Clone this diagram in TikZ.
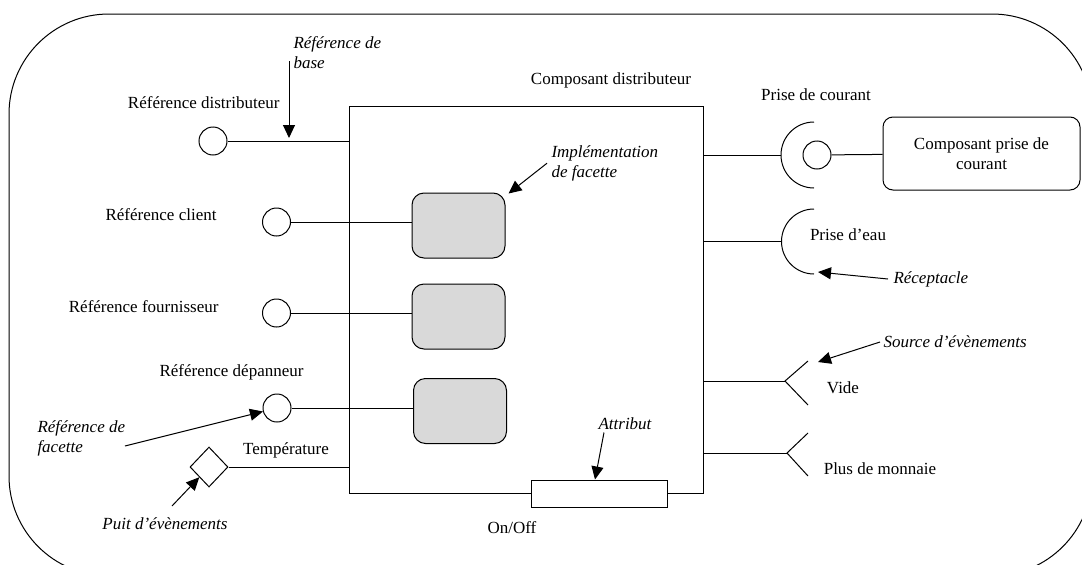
\documentclass[tikz,border=0pt]{standalone}
\usepackage{fontspec}
\setmainfont{Liberation Serif}
\usetikzlibrary{arrows.meta,shapes.geometric,positioning}

\begin{document}
\begin{tikzpicture}[x=1pt, y=-1pt, line width=1pt,
  every node/.style={font=\fontsize{17}{20}\selectfont, inner sep=0pt},
  port/.style={draw, circle, minimum size=28pt},
  facet/.style={draw, rounded corners=12pt, fill=black!15, minimum width=93pt, minimum height=65pt},
  note/.style={font=\fontsize{17}{20}\selectfont\itshape, align=left},
  pointer/.style={-{Triangle[length=13pt, width=12pt]}}]
  \useasboundingbox (0,0) rectangle (1082,565);
  \clip (0,0) rectangle (1082,565);
  \draw[rounded corners=100pt] (9,14) rectangle (1092,576);

  % composant distributeur
  \node[draw, minimum width=354pt, minimum height=387pt] (dist) at (526,299.5) {};
  \node (distlbl) at (611,80) {Composant distributeur};

  % facettes
  \node[facet] (f1) at (458.5,225.5) {};
  \node[facet] (f2) at (458.5,316.5) {};
  \node[facet] (f3) at (460,411) {};

  % references
  \node[port] (rdist) at (213,141) {};
  \node[anchor=east] (rdistlbl) at (280,103) {Référence distributeur};
  \node[port] (rcli) at (276.5,222) {};
  \node[anchor=east] (rclilbl) at (217,215) {Référence client};
  \node[port] (rfou) at (276.5,313) {};
  \node[anchor=east] (rfoulbl) at (219,307) {Référence fournisseur};
  \node[port] (rdep) at (277,408) {};
  \node[anchor=east] (rdeplbl) at (304,372) {Référence dépanneur};
  \draw (rdist) -- (dist.west |- rdist);
  \draw (rcli) -- (f1.west |- rcli);
  \draw (rfou) -- (f2.west |- rfou);
  \draw (rdep) -- (f3.west |- rdep);

  % puit
  \node[draw, diamond, minimum width=38pt, minimum height=40pt] (puit) at (209,467) {};
  \node (temp) at (286,450) {Température};
  \draw (puit) -- (dist.west |- puit);

  % attribut
  \node[draw, fill=white, minimum width=136pt, minimum height=27pt] (attr) at (599,493.5) {};
  \node (onoff) at (512,528) {On/Off};

  % receptacles
  \coordinate (pc) at (814,155);
  \coordinate (pcleft) at (781,155);
  \draw (dist.east |- pc) -- (pcleft);
  \draw (814,122) arc[start angle=270, end angle=90, radius=33];
  \node[port] (pcport) at (817,155) {};
  \node (pclbl) at (816,95) {Prise de courant};
  \node[draw, rounded corners=10pt, minimum width=197pt, minimum height=73pt, align=center] (pcomp) at (981.5,153.5) {Composant prise de\\courant};
  \draw (pcport) -- (pcomp);

  \coordinate (pe) at (814,241.5);
  \coordinate (peleft) at (781.5,241.5);
  \draw (dist.east |- pe) -- (peleft);
  \draw (814,209) arc[start angle=270, end angle=90, radius=32.5];
  \node (pelbl) at (848,235) {Prise d’eau};

  % sources
  \coordinate (vide) at (785,381);
  \draw (dist.east |- vide) -- (vide);
  \draw (808,361) -- (vide) -- (808,405);
  \node (videlbl) at (843,388) {Vide};
  \coordinate (plus) at (787,453);
  \draw (dist.east |- plus) -- (plus);
  \draw (808,433) -- (plus) -- (808,476);
  \node (pluslbl) at (880,469) {Plus de monnaie};

  % annotations
  \node[note, anchor=north west] (basenote) at (293,36) {Référence de\\base};
  \coordinate (basetail) at (289,61);
  \coordinate (basetip) at (289,138);
  \draw[pointer] (basetail) -- (basetip);

  \node[note, anchor=north west] (implnote) at (551,145) {Implémentation\\de facette};
  \draw[pointer] ([xshift=-4pt]implnote.west) -- ([shift={(3pt,-1pt)}]f1.north east);

  \node[note, anchor=north west] (facnote) at (37,420) {Référence de\\facette};
  \coordinate (factail) at (125,446);
  \draw[pointer] (factail) -- (rdep);

  \node[note] (puitnote) at (165,524) {Puit d’évènements};
  \coordinate (puittail) at (172,506);
  \draw[pointer] (puittail) -- (puit);

  \node[note] (attrnote) at (625,424) {Attribut};
  \draw[pointer] (attrnote.south) ++(-21pt,-2pt) -- ([xshift=-4pt]attr.north);

  \node[note, anchor=west] (recnote) at (893,279) {Réceptacle};
  \coordinate (rectip) at (818,272);
  \draw[pointer] ([xshift=-5pt]recnote.west) -- (rectip);

  \node[note, anchor=west] (srcnote) at (883,342) {Source d’évènements};
  \coordinate (srctip) at (818,362);
  \draw[pointer] ([xshift=-3pt]srcnote.west) -- (srctip);
\end{tikzpicture}
\end{document}
